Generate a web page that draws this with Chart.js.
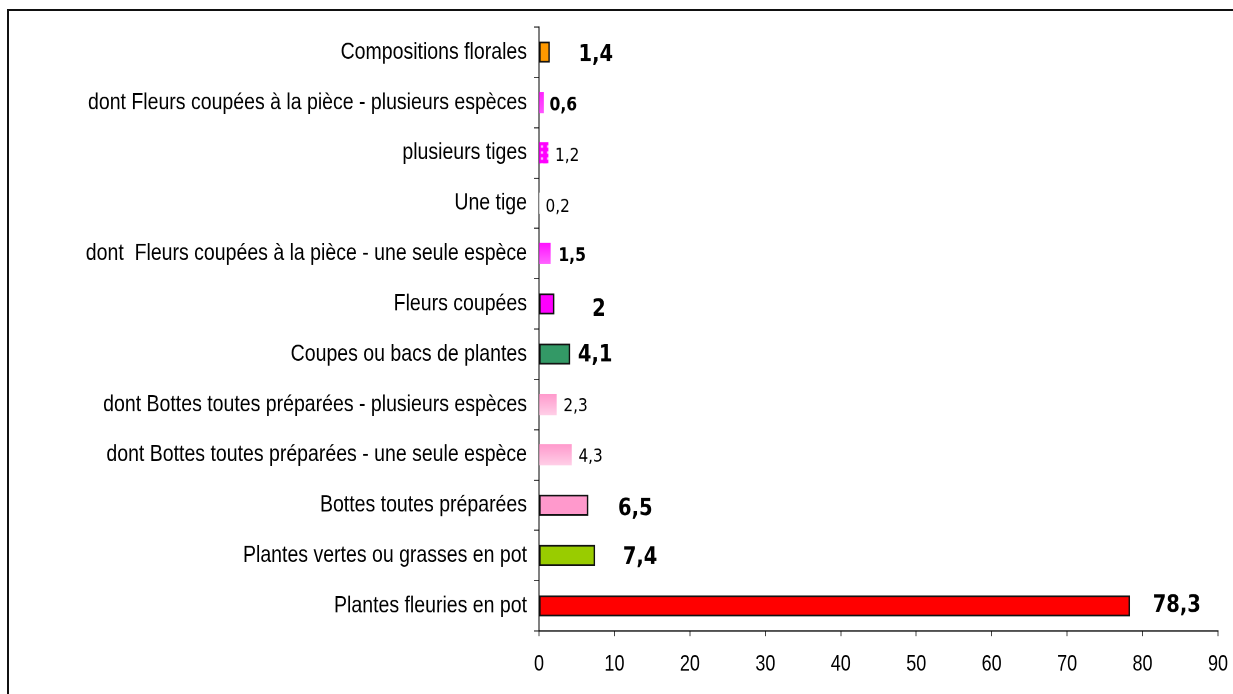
<!DOCTYPE html>
<html>
<head>
<meta charset="utf-8">
<script src="https://cdn.jsdelivr.net/npm/chart.js@4.4.0/dist/chart.umd.min.js"></script>
<style>
  html, body { margin: 0; padding: 0; background: #fff; }
  #wrap { position: relative; width: 1233px; height: 694px; overflow: hidden; }
  #frame { position: absolute; left: 7px; top: 9px; width: 1300px; height: 800px;
           border-top: 2px solid #111; border-left: 2px solid #111; }
  /* the reference text is tall and narrow: draw at 578px high, stretch to 694 */
  #stretch { position: absolute; left: 0; top: 0; width: 1233px; height: 578px;
             transform: scaleY(1.2007); transform-origin: 0 0; }
</style>
</head>
<body>
<div id="wrap">
  <div id="frame"></div>
  <div id="stretch"><canvas id="chart" width="1233" height="578"></canvas></div>
</div>
<script>
const categories = [
  'Compositions florales',
  'dont Fleurs coupées à la pièce - plusieurs espèces',
  'plusieurs tiges',
  'Une tige',
  'dont  Fleurs coupées à la pièce - une seule espèce',
  'Fleurs coupées',
  'Coupes ou bacs de plantes',
  'dont Bottes toutes préparées - plusieurs espèces',
  'dont Bottes toutes préparées - une seule espèce',
  'Bottes toutes préparées',
  'Plantes vertes ou grasses en pot',
  'Plantes fleuries en pot'
];
const values = [1.4, 0.6, 1.2, 0.2, 1.5, 2, 4.1, 2.3, 4.3, 6.5, 7.4, 78.3];
const xTicks = [0, 10, 20, 30, 40, 50, 60, 70, 80, 90];

// fill style per bar: solid colour, [top, bottom] gradient, or 'dots'
const fills = ['#FF9900', ['#FF22FF', '#FF55FF'], 'dots', '#FFFFFF', ['#FF11FF', '#FF66FF'],
  '#FF00FF', '#339966', ['#FF99CC', '#FFD0E8'], ['#FF99CC', '#FFD0E8'], '#FF99CC', '#99CC00', '#FF0000'];
const borders = [1.5, 0, 0, 0, 0, 1.5, 1.5, 0, 0, 1.5, 1.5, 1.5];
// value label look: [bold, size, dx, dy]
const labelLook = [
  [true, 19.5, 29, 2.5], [true, 15.6, 6, 2.5], [false, 15.3, 7, 2.5], [false, 15.3, 5, 3.3],
  [true, 15.6, 8, 2.5], [true, 19.5, 38, 5], [true, 19.5, 8, 1], [false, 15.3, 7, 1.7],
  [false, 15.3, 7, 1.7], [true, 19.5, 30, 3.3], [true, 19.5, 28, 1.7], [true, 19.5, 23, 0]
];

const canvas = document.getElementById('chart');
const ctx = canvas.getContext('2d');

const pat = document.createElement('canvas');
pat.width = 6; pat.height = 5;
const pc = pat.getContext('2d');
pc.fillStyle = '#FF00FF'; pc.fillRect(0, 0, 6, 5);
pc.fillStyle = '#FFC8FF'; pc.fillRect(1, 1, 2, 2);
const dotPattern = ctx.createPattern(pat, 'repeat');

const barColor = (c) => {
  const f = fills[c.dataIndex];
  if (f === 'dots') return dotPattern;
  if (typeof f === 'string') return f;
  const chart = c.chart;
  if (!chart.chartArea || !chart.scales.y) return f[0];
  const y = chart.scales.y.getPixelForValue(c.dataIndex);
  const g = chart.ctx.createLinearGradient(0, y - 9, 0, y + 9);
  g.addColorStop(0, f[0]);
  g.addColorStop(1, f[1]);
  return g;
};

const valueLabels = {
  id: 'valueLabels',
  afterDatasetsDraw(chart) {
    const c = chart.ctx;
    const meta = chart.getDatasetMeta(0);
    c.save();
    c.fillStyle = '#000';
    c.textBaseline = 'middle';
    c.textAlign = 'left';
    meta.data.forEach((bar, i) => {
      const [bold, size, dx, dy] = labelLook[i];
      c.font = (bold ? 'bold ' : '') + size + "px 'DejaVu Sans', sans-serif";
      c.fillText(values[i].toString().replace('.', ','), bar.x + dx, bar.y + dy);
    });
    c.restore();
  }
};

const family = "'Liberation Sans', Arial, sans-serif";

new Chart(ctx, {
  type: 'bar',
  data: {
    labels: categories,
    datasets: [{
      data: values,
      backgroundColor: barColor,
      borderColor: '#111',
      borderWidth: borders,
      borderSkipped: false,
      barThickness: 17
    }]
  },
  options: {
    indexAxis: 'y',
    responsive: false,
    animation: false,
    devicePixelRatio: 2,
    layout: { padding: { left: 0, right: 15, top: 22.5, bottom: 0 } },
    plugins: { legend: { display: false }, tooltip: { enabled: false } },
    scales: {
      x: {
        min: 0, max: 90,
        afterBuildTicks: (s) => { s.ticks = xTicks.map(v => ({ value: v })); },
        afterFit: (s) => { s.height = 52.5; s.paddingLeft = 0; s.paddingRight = 0; },
        grid: { drawOnChartArea: false, tickLength: 4.2, color: '#444' },
        border: { display: true, color: '#000', width: 1 },
        ticks: { color: '#000', font: { family, size: 18 }, padding: 13, maxRotation: 0 }
      },
      y: {
        afterFit: (s) => { s.width = 539; },
        grid: { drawOnChartArea: false, tickLength: 5, color: '#444', offset: true },
        border: { display: true, color: '#000', width: 1 },
        ticks: { color: '#000', font: { family, size: 19.5 }, padding: 7, autoSkip: false }
      }
    }
  },
  plugins: [valueLabels]
});
</script>
</body>
</html>
